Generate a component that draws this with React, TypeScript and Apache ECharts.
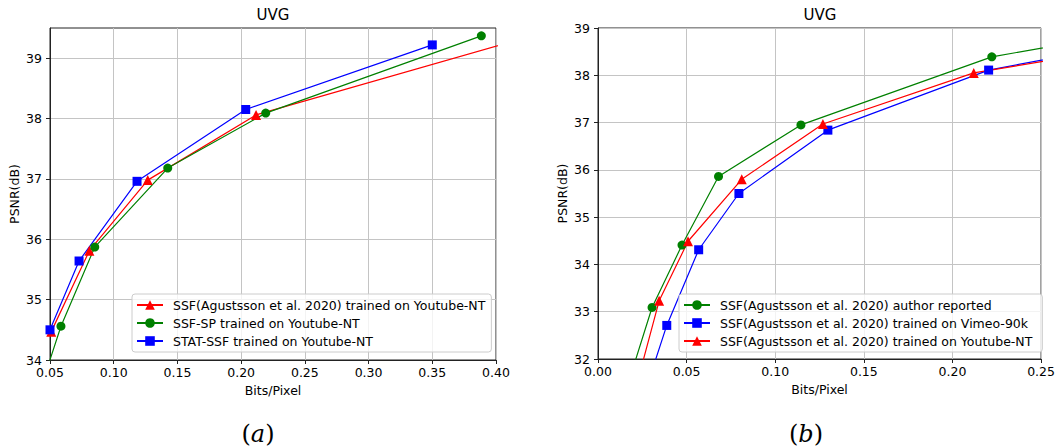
import React, { useEffect, useRef } from "react";
import * as echarts from "echarts";

// ---------- Data ----------
// Left panel (a): UVG, x = Bits/Pixel, y = PSNR(dB)
const leftSSFYoutube: number[][] = [
  [0.051, 34.47], [0.0809, 35.81], [0.1267, 36.98], [0.2117, 38.06], [0.44, 39.44],
];
const leftSSFSP: number[][] = [
  [0.047, 33.81], [0.0586, 34.56], [0.0851, 35.87], [0.1424, 37.18], [0.2193, 38.09], [0.3885, 39.37],
];
const leftSTATSSF: number[][] = [
  [0.05, 34.5], [0.0728, 35.64], [0.1183, 36.96], [0.2036, 38.15], [0.35, 39.22],
];

// Right panel (b)
const rightAuthor: number[][] = [
  [0.018, 31.6], [0.0305, 33.09], [0.0474, 34.41], [0.068, 35.86], [0.1145, 36.95], [0.2222, 38.39], [0.3, 38.9],
];
const rightVimeo: number[][] = [
  [0.03, 31.7], [0.0388, 32.71], [0.0568, 34.31], [0.0795, 35.5], [0.1297, 36.84], [0.2204, 38.11], [0.3, 38.67],
];
const rightYoutube: number[][] = [
  [0.024, 31.76], [0.0345, 33.23], [0.0508, 34.49], [0.0811, 35.8], [0.1269, 36.97], [0.212, 38.05], [0.3, 38.6],
];

// Tick values
const leftXTicks = [0.05, 0.1, 0.15, 0.2, 0.25, 0.3, 0.35, 0.4];
const leftYTicks = [34, 35, 36, 37, 38, 39];
const rightXTicks = [0, 0.05, 0.1, 0.15, 0.2, 0.25];
const rightYTicks = [32, 33, 34, 35, 36, 37, 38, 39];

const NAME_SSF_YT = "SSF(Agustsson et al. 2020) trained on Youtube-NT";
const NAME_SSFSP = "SSF-SP trained on Youtube-NT";
const NAME_STAT = "STAT-SSF trained on Youtube-NT";
const NAME_AUTHOR = "SSF(Agustsson et al. 2020) author reported";
const NAME_VIMEO = "SSF(Agustsson et al. 2020) trained on Vimeo-90k";
const NAME_SSF_YT_R = "SSF(Agustsson et al. 2020) trained on Youtube-NT ";

const FONT = "DejaVu Sans";
const RED = "#ff0000";
const GREEN = "#008000";
const BLUE = "#0000ff";

function xAxisCfg(grid: number, min: number, max: number, ticks: number[]) {
  return {
    type: "value",
    gridIndex: grid,
    min,
    max,
    interval: 0.05,
    name: "Bits/Pixel",
    nameLocation: "middle",
    nameGap: 24,
    nameTextStyle: { color: "#000", fontSize: 12.5, fontFamily: FONT },
    axisLine: { show: true, onZero: false, lineStyle: { color: "#222", width: 1 } },
    axisTick: { show: true, length: 4, lineStyle: { color: "#222" }, customValues: ticks },
    axisLabel: {
      color: "#000",
      fontSize: 12.5,
      fontFamily: FONT,
      margin: 6,
      customValues: ticks,
      formatter: (v: number) => v.toFixed(2),
    },
    splitLine: { show: true, lineStyle: { color: "#c4c4c4", width: 1 } },
  };
}

function yAxisCfg(grid: number, min: number, max: number, ticks: number[]) {
  return {
    type: "value",
    gridIndex: grid,
    min,
    max,
    interval: 1,
    name: "PSNR(dB)",
    nameLocation: "middle",
    nameGap: 29,
    nameRotate: 90,
    nameTextStyle: { color: "#000", fontSize: 12.5, fontFamily: FONT },
    axisLine: { show: true, onZero: false, lineStyle: { color: "#222", width: 1 } },
    axisTick: { show: true, length: 4, lineStyle: { color: "#222" }, customValues: ticks },
    axisLabel: {
      color: "#000",
      fontSize: 12.5,
      fontFamily: FONT,
      margin: 8,
      customValues: ticks,
      formatter: (v: number) => (Number.isInteger(v) ? String(v) : ""),
    },
    splitLine: { show: true, lineStyle: { color: "#c4c4c4", width: 1 } },
  };
}

function lineSeries(name: string, data: number[][], color: string, symbol: string, idx: number, size: number) {
  return {
    type: "line",
    name,
    data,
    xAxisIndex: idx,
    yAxisIndex: idx,
    symbol,
    symbolSize: size,
    showAllSymbol: true,
    clip: true,
    lineStyle: { color, width: 1.2 },
    itemStyle: { color },
    emphasis: { disabled: true },
  };
}

function legendCfg(left: number, names: string[]) {
  return {
    orient: "vertical",
    left,
    top: 294,
    data: names,
    itemWidth: 26,
    itemHeight: 12,
    itemGap: 4,
    padding: [4, 6, 4, 4],
    borderColor: "#cccccc",
    borderWidth: 1,
    borderRadius: 3,
    backgroundColor: "rgba(255,255,255,0.8)",
    selectedMode: false,
    textStyle: {
      color: "#000",
      fontSize: 12.5,
      fontFamily: FONT,
      lineHeight: 14,
      padding: [0, 0, 0, 5],
    },
  };
}

export default function App() {
  const ref = useRef<HTMLDivElement>(null);

  useEffect(() => {
    document.body.style.margin = "0";
    if (!ref.current) return;
    const chart = echarts.init(ref.current, undefined, { renderer: "svg" });
    const caption = (label: string, x: number) => ({
      type: "text",
      x,
      y: 434,
      style: {
        text: `{p|(}{i|${label}}{p|)}`,
        textAlign: "center",
        textVerticalAlign: "middle",
        verticalAlign: "middle",
        rich: {
          p: { fontFamily: "DejaVu Serif", fontSize: 24, fill: "#000", fontStyle: "normal" },
          i: { fontFamily: "DejaVu Serif", fontSize: 24, fill: "#000", fontStyle: "italic" },
        },
      },
    });
    const title = (x: number) => ({
      type: "text",
      x,
      y: 15,
      style: {
        text: "UVG",
        fontFamily: FONT,
        fontSize: 15,
        fill: "#000",
        textAlign: "center",
        textVerticalAlign: "middle",
        verticalAlign: "middle",
      },
    });
    chart.setOption({
      animation: false,
      backgroundColor: "#ffffff",
      textStyle: { fontFamily: FONT },
      grid: [
        { left: 50, top: 28, width: 446, height: 332, show: true, borderColor: "#222", borderWidth: 1, backgroundColor: "transparent" },
        { left: 598, top: 28, width: 445, height: 331, show: true, borderColor: "#222", borderWidth: 1, backgroundColor: "transparent" },
      ],
      xAxis: [xAxisCfg(0, 0.05, 0.4, leftXTicks), xAxisCfg(1, 0, 0.25, rightXTicks)],
      yAxis: [yAxisCfg(0, 34, 39.5, leftYTicks), yAxisCfg(1, 32, 39, rightYTicks)],
      legend: [
        legendCfg(132, [NAME_SSF_YT, NAME_SSFSP, NAME_STAT]),
        legendCfg(679, [NAME_AUTHOR, NAME_VIMEO, NAME_SSF_YT_R]),
      ],
      graphic: [title(273), title(820), caption("a", 258), caption("b", 806)],
      series: [
        lineSeries(NAME_SSF_YT, leftSSFYoutube, RED, "triangle", 0, 10),
        lineSeries(NAME_SSFSP, leftSSFSP, GREEN, "circle", 0, 9),
        lineSeries(NAME_STAT, leftSTATSSF, BLUE, "rect", 0, 9),
        lineSeries(NAME_AUTHOR, rightAuthor, GREEN, "circle", 1, 9),
        lineSeries(NAME_VIMEO, rightVimeo, BLUE, "rect", 1, 9),
        lineSeries(NAME_SSF_YT_R, rightYoutube, RED, "triangle", 1, 10),
      ],
    });
    return () => chart.dispose();
  }, []);

  return (
    <div
      ref={ref}
      style={{ position: "absolute", left: 0, top: 0, width: 1058, height: 448 }}
    />
  );
}
